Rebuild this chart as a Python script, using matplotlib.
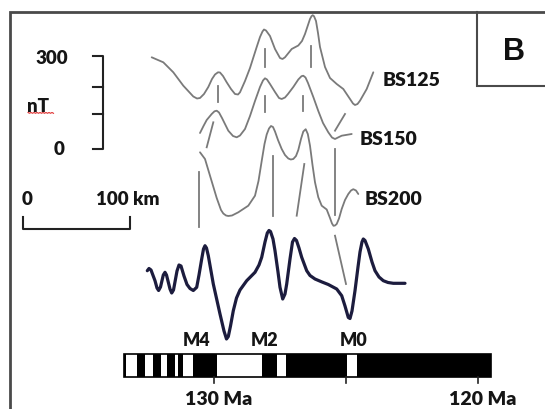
import numpy as np
import matplotlib.pyplot as plt
import matplotlib.patches as patches

# canvas units follow the 545 x 410 figure, y growing downward
W, H = 545, 410

bs125_x = [151.7, 163.3, 173.3, 183.3, 193.3, 197, 200, 204, 208.3, 212, 215, 218,
           220, 223, 226.7, 231, 235, 238, 240, 245, 250, 253.5, 256.7, 260, 262.5,
           264, 266, 270, 275, 280, 282.5, 285, 291.7, 298.3, 302, 305, 308, 310,
           311.5, 312.7, 314, 316, 318, 320, 325, 330, 336.7, 343.3, 350, 353, 355,
           357.5, 360, 366.7, 373.3]
bs125_y = [58.3, 63.3, 73.3, 86.7, 97.5, 99.5, 99, 95, 88, 80, 75.5, 73.3,
           73.5, 77, 83.3, 90, 95, 95.5, 93.3, 82, 69, 58, 48, 38, 32.5,
           30.5, 31.5, 37, 50, 59, 60, 58.3, 50, 46.5, 42, 35, 26, 20,
           17.2, 16.2, 17.2, 22, 34, 48, 68, 79, 85, 90, 100, 104.5, 106,
           105, 101.7, 90, 73.3]

bs150_x = [200, 203.5, 206.7, 211.7, 214.5, 216.7, 219, 222, 228.3, 233, 236.7,
           240, 245, 250, 255, 260, 263, 265, 267, 270, 275, 279, 281.7, 285,
           288, 293.3, 298.3, 301.5, 303.3, 305.5, 308, 313.3, 318.3, 323, 328.3,
           332, 335, 338, 341.7, 351.7]
bs150_y = [134, 127, 121, 115, 112.3, 111.7, 113.5, 119, 131.7, 137, 138.3,
           136.5, 130, 117, 102, 88, 81.5, 79.3, 80.5, 85, 93, 99, 100, 98.5,
           95, 88, 80.5, 77.2, 76.7, 78.5, 84, 98, 112, 124, 133.3,
           138.5, 140, 138.5, 136.7, 135]

bs200_x = [200, 205, 210, 216.7, 221, 223.3, 226, 228.3, 232, 238.3, 248.3, 255,
           258.5, 261.7, 264.5, 266.7, 269, 271, 273, 275, 278, 281.7, 285,
           288.3, 290.8, 293.3, 296, 298.3, 301, 303.3, 305.7, 307.8, 310, 312.5,
           315, 318.3, 321.7, 326.7, 330, 332, 333.5, 335, 336.7, 339, 341.7,
           345, 348.3, 351, 353.3, 356, 358.3]
bs200_y = [153.3, 160, 176.7, 199, 211, 214.5, 216.5, 217, 216.5, 213.3, 206.7,
           196.7, 182, 162, 145, 135.5, 129.5, 127, 128, 132.5, 141, 150, 156,
           159.5, 160.5, 160, 157, 151, 140, 132.5, 130.2, 135, 146.7, 166,
           183.3, 198.3, 206.7, 210.5, 219, 224.5, 226.8, 226.5, 225, 219.5,
           210, 201, 195, 191.5, 190.2, 191.5, 195]

# modelled anomaly (dark)
model_x = [147.3, 149, 151, 155, 157, 158.6, 160.5, 163.3, 165, 166.5, 170, 171.7,
           173.5, 177, 179, 181, 184, 187, 190, 193.3, 196.7, 199, 201.7, 203.5,
           205, 206.5, 208.3, 213.3, 220, 224, 226.5, 228.3, 230.5, 233.3, 236.5,
           240, 246.7, 255, 259, 261.7, 265, 267.3, 269, 270.5, 273, 275, 278,
           280, 282.7, 285, 286.7, 290, 292.5, 294.5, 296.5, 299, 301.7, 306.7,
           310, 315, 322, 328.3, 336.7, 341.7, 345, 348.3, 350, 352, 355, 358,
           360, 362, 363.3, 365, 368.3, 372, 375, 379, 383.3, 388, 393.3, 405]
model_y = [271.7, 269.5, 271, 281.7, 289, 291.5, 288, 276, 273.3, 276, 290, 294,
           291, 272, 266, 267, 277, 285.5, 289.5, 291.5, 288.3, 276, 260, 250,
           246.7, 249, 256.7, 285, 315, 332, 340, 337.5, 327, 311.7, 299,
           291, 281.7, 273.3, 266, 258.3, 243, 234, 231.5, 232.5, 240, 251.7, 273,
           288.3, 300, 295, 285, 260, 243, 239.5, 241.5, 249, 258.3, 271.7,
           276.5, 280, 283, 285.5, 290, 296.7, 307, 318.5, 319.5, 312, 291.7, 268,
           253, 243, 240, 241.5, 250, 263, 271.7, 278, 281.7, 283.5, 284.3, 284.3]

# correlation lines between profiles: (x0, y0, x1, y1)
tie_lines = [(217.7, 86.7, 217.7, 103), (265, 50, 265, 68), (265, 96.7, 265, 113),
             (310.7, 46.7, 310.7, 68), (303.3, 96.7, 303.3, 111.7),
             (213.3, 123.3, 206.7, 148.3), (345, 115, 335, 131.7),
             (198.8, 173.3, 198.8, 228.3), (272.5, 156.7, 272.5, 216.7),
             (304.3, 165, 296.7, 216.7), (335, 150, 335, 216),
             (335, 236.7, 346, 285)]

profile_names = ["BS125", "BS150", "BS200"]
profile_label_pos = [(383, 80), (360, 140), (365, 200)]

# polarity timescale (Ma): normal-polarity (black) chrons
bar_range = (133.41, 119.51)
normal_chrons = [(132.92, 132.61), (132.31, 132.01), (131.78, 131.48),
                 (131.36, 131.17), (130.80, 129.89), (128.18, 127.61),
                 (127.27, 124.96), (124.58, 119.51)]
chron_names = ["M4", "M2", "M0"]
chron_label_x = [197, 265, 354]
age_ticks = [130, 125, 120]
age_labels = {130: "130 Ma", 120: "120 Ma"}


def age_to_x(age):
    # 130 Ma sits at x=214, 120 Ma at x=478
    return 214 + (130 - age) * 26.4


fig = plt.figure(figsize=(W / 100, H / 100), dpi=100)
ax = fig.add_axes([0, 0, 1, 1])
ax.set_xlim(0, W)
ax.set_ylim(H, 0)
ax.axis("off")

txt = dict(family=["Lato", "DejaVu Sans"], fontweight=800, color="#151515")

# outer frame and panel letter box
ax.plot([10, 10, W + 5], [H + 5, 13, 13], color="#4a4a4a", lw=2, solid_joinstyle="miter")
ax.plot([477, 477, W + 5], [13, 87, 87], color="#4a4a4a", lw=1.5, solid_joinstyle="miter")
ax.text(514, 52, "B", family=["Liberation Sans", "DejaVu Sans"], fontweight="bold",
        fontsize=22, ha="center", va="center", color="#111111")

# amplitude scale bar
ax.plot([93, 103, 103, 93], [57, 57, 150, 150], color="#222222", lw=1.5)
for ty in [88, 115]:
    ax.plot([93, 103], [ty, ty], color="#222222", lw=1.5)
ax.text(68, 58, "300", ha="right", va="center", fontsize=13.5, **txt)
ax.text(65, 150, "0", ha="right", va="center", fontsize=13.5, **txt)
ax.text(27, 106, "nT", ha="left", va="center", fontsize=13.5, **txt)
sq = np.arange(28, 54, 1.5)
ax.plot(sq, 113.5 + 0.8 * (np.arange(len(sq)) % 2), color="#e03030", lw=0.8)

# distance scale bar
ax.plot([23, 23, 130, 130], [218, 230, 230, 218], color="#222222", lw=1.5)
ax.text(22, 200, "0", ha="left", va="center", fontsize=13.5, **txt)
ax.text(96, 200, "100 km", ha="left", va="center", fontsize=13.5, **txt)

# profiles
grey = "#7a7a7a"
for px, py in [(bs125_x, bs125_y), (bs150_x, bs150_y), (bs200_x, bs200_y)]:
    ax.plot(px, py, color=grey, lw=1.3, solid_joinstyle="round", solid_capstyle="round")
for x0, y0, x1, y1 in tie_lines:
    ax.plot([x0, x1], [y0, y1], color=grey, lw=1.3)
ax.plot(model_x, model_y, color="#1c1c3e", lw=2.3, solid_joinstyle="round",
        solid_capstyle="round")

for name, (lx, ly) in zip(profile_names, profile_label_pos):
    ax.text(lx, ly, name, ha="left", va="center", fontsize=14, **txt)

# polarity bar
bar_top, bar_h = 355, 23
x_left, x_right = age_to_x(bar_range[0]), age_to_x(bar_range[1])
ax.add_patch(patches.Rectangle((x_left, bar_top), x_right - x_left, bar_h,
                               facecolor="white", edgecolor="black", lw=1.2))
for a0, a1 in normal_chrons:
    x0, x1 = age_to_x(a0), age_to_x(a1)
    ax.add_patch(patches.Rectangle((x0, bar_top), x1 - x0, bar_h,
                                   facecolor="black", edgecolor="none"))
ax.add_patch(patches.Rectangle((x_left, bar_top), 2.5, bar_h,
                               facecolor="black", edgecolor="none"))

for age in age_ticks:
    ax.plot([age_to_x(age)] * 2, [bar_top + bar_h, bar_top + bar_h + 6],
            color="#222222", lw=1.2)
    if age in age_labels:
        ax.text(age_to_x(age) + 5, 400, age_labels[age], ha="center", va="center",
                fontsize=14, **txt)

for name, cx in zip(chron_names, chron_label_x):
    ax.text(cx, 341, name, ha="center", va="center", fontsize=13, **txt)

fig.savefig("out.png", dpi=100, facecolor="white")
